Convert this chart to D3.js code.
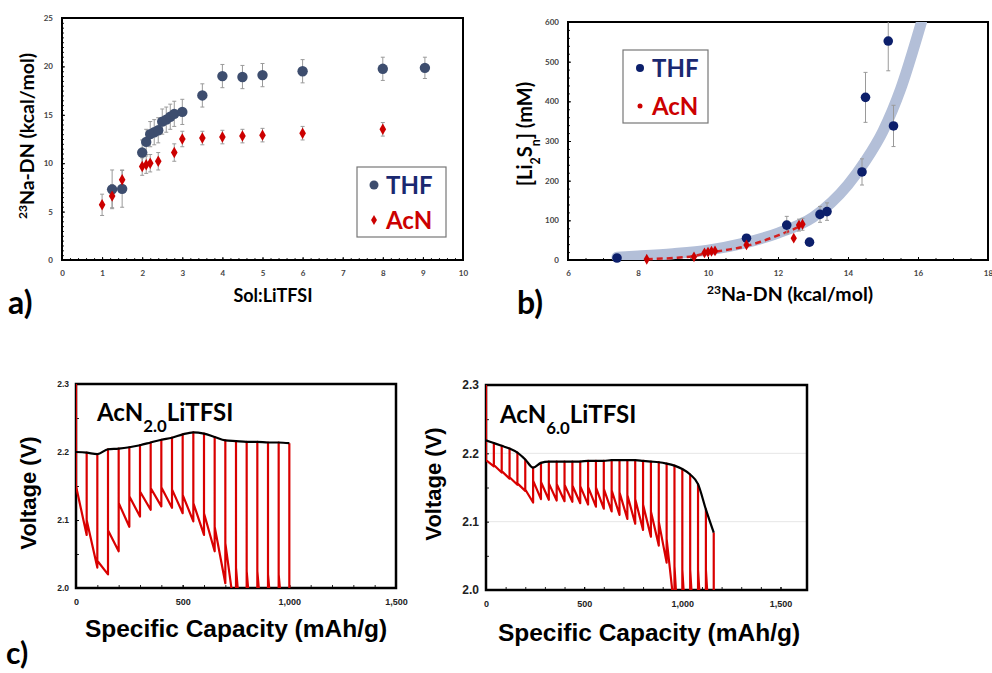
<!DOCTYPE html>
<html>
<head>
<meta charset="utf-8">
<script src="https://cdn.jsdelivr.net/npm/d3@7"></script>
<style>
  body { margin: 0; background: #fff; }
</style>
</head>
<body>
<script>
// ---- panel a: 23Na-DN vs Sol:LiTFSI ----
const thfRatio = [1.25, 1.5, 2.0, 2.1, 2.2, 2.3, 2.4, 2.5, 2.6, 2.7, 2.8, 3.0, 3.5, 4.0, 4.5, 5.0, 6.0, 8.0, 9.05];
const thfDN    = [7.3, 7.35, 11.1, 12.2, 13.0, 13.2, 13.4, 14.3, 14.5, 14.8, 15.1, 15.3, 17.0, 19.0, 18.9, 19.1, 19.5, 19.75, 19.85];
const thfDNErr = [2.0, 1.9, 1.3, 1.3, 1.3, 1.3, 1.3, 1.3, 1.3, 1.3, 1.3, 1.3, 1.2, 1.2, 1.2, 1.2, 1.2, 1.2, 1.1];
const acnRatio = [1.0, 1.25, 1.5, 2.0, 2.1, 2.2, 2.4, 2.8, 3.0, 3.5, 4.0, 4.5, 5.0, 6.0, 8.0];
const acnDN    = [5.7, 6.6, 8.3, 9.65, 9.85, 10.0, 10.2, 11.1, 12.5, 12.6, 12.7, 12.8, 12.9, 13.1, 13.5];
const acnDNErr = [1.1, 1.2, 1.0, 0.9, 0.9, 0.9, 0.9, 0.9, 0.8, 0.7, 0.7, 0.7, 0.7, 0.7, 0.7];

// ---- panel b: [Li2Sn] vs 23Na-DN ----
const thfDNb   = [7.4, 11.1, 12.25, 12.9, 13.2, 13.4, 14.4, 14.5, 15.15, 15.3];
const thfConc  = [5, 55, 88, 45, 115, 122, 222, 410, 552, 338];
const thfConcErr = [0, 0, 22, 0, 20, 22, 33, 63, 75, 52];
const acnDNb   = [8.25, 9.6, 9.9, 10.0, 10.1, 10.2, 11.1, 12.45, 12.6, 12.7];
const acnConc  = [2, 8, 18, 20, 22, 23, 38, 55, 88, 90];
const acnConcErr = [0, 0, 0, 0, 0, 0, 0, 0, 15, 15];
// trend curves
const thfFitX = [7.4, 8, 9, 10, 11, 12, 13, 14, 14.5, 15, 15.5, 16, 16.1];
const thfFitY = [7, 10, 16, 25, 42, 68, 108, 190, 250, 325, 430, 570, 600];
const acnFitX = [8.25, 9, 9.6, 10, 10.5, 11, 11.5, 12, 12.4, 12.7];
const acnFitY = [2, 5, 10, 18, 25, 33, 46, 62, 76, 88];

// ---- panel c: GITT, AcN2.0LiTFSI ----
const cap1 = [0, 50, 100, 150, 200, 250, 300, 350, 400, 450, 500, 550, 600, 650, 700, 750, 800, 850, 900, 950, 1000];
const ocv1 = [2.200, 2.199, 2.197, 2.204, 2.205, 2.207, 2.210, 2.214, 2.218, 2.221, 2.226, 2.229, 2.227, 2.222, 2.217, 2.216, 2.215, 2.215, 2.214, 2.214, 2.213];
const top1 = [2.150, 2.100, 2.040, 2.085, 2.125, 2.135, 2.142, 2.147, 2.148, 2.145, 2.137, 2.125, 2.110, 2.090, 2.066, 2.030, 2.025, 2.025, 2.020, 2.020];
const bot1 = [2.078, 2.030, 2.020, 2.054, 2.090, 2.105, 2.115, 2.120, 2.118, 2.110, 2.098, 2.078, 2.054, 2.007, 1.950, 1.840, 1.840, 1.840, 1.840, 1.840];

// ---- panel c: GITT, AcN6.0LiTFSI ----
const cap2 = [0, 40, 80, 120, 160, 200, 240, 280, 320, 360, 400, 440, 480, 520, 560, 600, 640, 680, 720, 760, 800, 840, 880, 920, 960, 1000, 1040, 1080, 1120, 1160];
const ocv2 = [2.219, 2.215, 2.211, 2.207, 2.201, 2.191, 2.179, 2.186, 2.188, 2.188, 2.188, 2.188, 2.188, 2.189, 2.189, 2.189, 2.190, 2.190, 2.190, 2.190, 2.189, 2.188, 2.187, 2.185, 2.182, 2.177, 2.169, 2.155, 2.118, 2.084];
const top2 = [2.190, 2.183, 2.174, 2.165, 2.156, 2.147, 2.160, 2.158, 2.156, 2.155, 2.154, 2.153, 2.152, 2.151, 2.150, 2.148, 2.146, 2.143, 2.139, 2.133, 2.125, 2.115, 2.100, 2.075, 2.035, 2.030, 2.030, 2.030, 2.030];
const bot2 = [2.181, 2.172, 2.163, 2.154, 2.145, 2.128, 2.133, 2.132, 2.131, 2.130, 2.129, 2.127, 2.125, 2.122, 2.119, 2.115, 2.110, 2.104, 2.097, 2.088, 2.078, 2.065, 2.040, 1.970, 1.840, 1.840, 1.840, 1.840, 1.840];

const navyA = "#3d4d6e";
const navyB = "#0c1f6b";
const red = "#cc0000";
const legNavy = "#1a2870";

const svg = d3.select("body").append("svg")
    .attr("width", 992)
    .attr("height", 673);

function ticksInside(x, y, opt) {
    const [x0, x1] = x.range();
    const [y0, y1] = y.range();
    // minor ticks
    svg.append("g")
        .attr("transform", "translate(0," + y0 + ")")
        .call(d3.axisBottom(x).tickValues(opt.xMinor).tickSize(-opt.minor).tickFormat(""))
        .call(g => g.select(".domain").remove())
        .selectAll("line").attr("stroke", "#222");
    svg.append("g")
        .attr("transform", "translate(" + x0 + ",0)")
        .call(d3.axisLeft(y).tickValues(opt.yMinor).tickSize(-opt.minor).tickFormat(""))
        .call(g => g.select(".domain").remove())
        .selectAll("line").attr("stroke", "#222");
    // major ticks + labels
    const gx = svg.append("g")
        .attr("transform", "translate(0," + y0 + ")")
        .call(d3.axisBottom(x).tickValues(opt.xTicks).tickSizeInner(-opt.major).tickSizeOuter(0)
            .tickPadding(opt.xPad).tickFormat(opt.xFmt));
    gx.select(".domain").remove();
    gx.selectAll("text").style("font-family", opt.font).style("font-size", opt.xSize + "px")
        .style("font-weight", "bold").attr("fill", opt.labelColor);
    const gy = svg.append("g")
        .attr("transform", "translate(" + x0 + ",0)")
        .call(d3.axisLeft(y).tickValues(opt.yTicks).tickSizeInner(-opt.major).tickSizeOuter(0)
            .tickPadding(opt.yPad).tickFormat(opt.yFmt));
    gy.select(".domain").remove();
    gy.selectAll("text").style("font-family", opt.font).style("font-size", opt.ySize + "px")
        .style("font-weight", "bold").attr("fill", opt.labelColor);
    // frame
    svg.append("rect")
        .attr("x", x0).attr("y", y1)
        .attr("width", x1 - x0).attr("height", y0 - y1)
        .attr("fill", "none").attr("stroke", "#000").attr("stroke-width", opt.frame);
}

function errorBars(x, y, xs, ys, es) {
    const g = svg.append("g").attr("stroke", "#9a9a9a").attr("stroke-width", 1);
    xs.forEach((xv, i) => {
        if (!es[i]) return;
        const cx = x(xv);
        const lo = y(ys[i] - es[i]);
        const hi = Math.max(y(ys[i] + es[i]), y.range()[1]);
        g.append("line").attr("x1", cx).attr("x2", cx).attr("y1", lo).attr("y2", hi);
        g.append("line").attr("x1", cx - 2).attr("x2", cx + 2).attr("y1", lo).attr("y2", lo);
        if (hi > y.range()[1]) g.append("line").attr("x1", cx - 2).attr("x2", cx + 2).attr("y1", hi).attr("y2", hi);
    });
}

function rotText(cx, cy, size, parts, family) {
    const t = svg.append("text")
        .attr("transform", "translate(" + cx + "," + cy + ") rotate(-90)")
        .attr("text-anchor", "middle")
        .style("font-size", size + "px").style("font-weight", "bold")
        .style("font-family", family || "Lato");
    parts.forEach(p => {
        const s = t.append("tspan").text(p.t);
        if (p.sup) s.attr("baseline-shift", "super").style("font-size", size * 0.62 + "px");
        if (p.sub) s.attr("baseline-shift", "sub").style("font-size", size * 0.62 + "px");
    });
    return t;
}

function plainText(x, y, size, parts, anchor, color, family) {
    const t = svg.append("text")
        .attr("x", x).attr("y", y)
        .attr("text-anchor", anchor || "start")
        .attr("fill", color || "#000")
        .style("font-size", size + "px").style("font-weight", "bold")
        .style("font-family", family || "Lato");
    parts.forEach(p => {
        const s = t.append("tspan").text(p.t);
        if (p.sup) s.attr("baseline-shift", "super").style("font-size", size * 0.62 + "px");
        if (p.sub) s.attr("baseline-shift", "sub").style("font-size", size * 0.7 + "px");
    });
    return t;
}

const diamond = d3.symbol().type(d3.symbolDiamond);

// ================= panel a =================
const xA = d3.scaleLinear().domain([0, 10]).range([62, 463]);
const yA = d3.scaleLinear().domain([0, 25]).range([260, 18]);

ticksInside(xA, yA, {
    xTicks: d3.range(0, 11), yTicks: d3.range(0, 26, 5),
    xMinor: d3.range(0, 10.01, 0.2), yMinor: d3.range(0, 25.01, 0.5),
    minor: 2, major: 3, xPad: 10, yPad: 9, xSize: 8, ySize: 8,
    xFmt: d3.format("d"), yFmt: d3.format("d"), font: "Lato", labelColor: "#444", frame: 2
});

errorBars(xA, yA, thfRatio, thfDN, thfDNErr);
errorBars(xA, yA, acnRatio, acnDN, acnDNErr);

svg.append("g").selectAll("circle")
    .data(thfRatio)
    .join("circle")
    .attr("cx", d => xA(d))
    .attr("cy", (d, i) => yA(thfDN[i]))
    .attr("r", 5.2)
    .attr("fill", navyA);

svg.append("g").selectAll("path")
    .data(acnRatio)
    .join("path")
    .attr("transform", (d, i) => "translate(" + xA(d) + "," + yA(acnDN[i]) + ")")
    .attr("d", diamond.size(38))
    .attr("fill", red);

// legend a
svg.append("rect").attr("x", 357).attr("y", 167).attr("width", 89).attr("height", 70)
    .attr("fill", "#fff").attr("stroke", "#777").attr("stroke-width", 1.2);
svg.append("circle").attr("cx", 374).attr("cy", 185).attr("r", 4.5).attr("fill", navyA);
svg.append("path").attr("transform", "translate(374,220)").attr("d", diamond.size(30)).attr("fill", red);
plainText(386, 194, 24, [{ t: "THF" }], "start", legNavy);
plainText(386, 229, 24, [{ t: "AcN" }], "start", red);

rotText(34, 136, 19.5, [{ t: "23", sup: true }, { t: "Na-DN (kcal/mol)" }]);
plainText(273, 302, 18, [{ t: "Sol:LiTFSI" }], "middle");
plainText(8, 314, 32, [{ t: "a)" }]);

// ================= panel b =================
const xB = d3.scaleLinear().domain([6, 18]).range([568, 988]);
const yB = d3.scaleLinear().domain([0, 600]).range([260, 22]);

ticksInside(xB, yB, {
    xTicks: d3.range(6, 19, 2), yTicks: d3.range(0, 601, 100),
    xMinor: d3.range(6, 18.01, 0.5), yMinor: d3.range(0, 600.1, 20),
    minor: 2, major: 3, xPad: 10, yPad: 9, xSize: 8, ySize: 8,
    xFmt: d3.format("d"), yFmt: d3.format("d"), font: "Lato", labelColor: "#444", frame: 2
});

svg.append("defs").append("clipPath").attr("id", "clipB")
    .append("rect").attr("x", 568).attr("y", 22).attr("width", 420).attr("height", 238);

svg.append("path")
    .datum(thfFitX.map((d, i) => [d, thfFitY[i]]))
    .attr("clip-path", "url(#clipB)")
    .attr("d", d3.line().x(d => xB(d[0])).y(d => yB(d[1])).curve(d3.curveMonotoneX))
    .attr("fill", "none")
    .attr("stroke", "#b3bfd8")
    .attr("stroke-width", 11)
    .attr("stroke-linecap", "round");

svg.append("path")
    .datum(acnFitX.map((d, i) => [d, acnFitY[i]]))
    .attr("d", d3.line().x(d => xB(d[0])).y(d => yB(d[1])).curve(d3.curveMonotoneX))
    .attr("fill", "none")
    .attr("stroke", "#d42020")
    .attr("stroke-width", 2.5)
    .attr("stroke-dasharray", "6,4");

errorBars(xB, yB, thfDNb, thfConc, thfConcErr);
errorBars(xB, yB, acnDNb, acnConc, acnConcErr);

svg.append("g").selectAll("circle")
    .data(thfDNb)
    .join("circle")
    .attr("cx", d => xB(d))
    .attr("cy", (d, i) => yB(thfConc[i]))
    .attr("r", 4.8)
    .attr("fill", navyB);

svg.append("g").selectAll("path")
    .data(acnDNb)
    .join("path")
    .attr("transform", (d, i) => "translate(" + xB(d) + "," + yB(acnConc[i]) + ")")
    .attr("d", diamond.size(34))
    .attr("fill", red);

// legend b
svg.append("rect").attr("x", 623).attr("y", 50).attr("width", 85).attr("height", 73)
    .attr("fill", "#fff").attr("stroke", "#777").attr("stroke-width", 1.2);
svg.append("circle").attr("cx", 640).attr("cy", 68).attr("r", 4).attr("fill", navyB);
svg.append("circle").attr("cx", 640).attr("cy", 106).attr("r", 2.5).attr("fill", red);
plainText(652, 77, 24, [{ t: "THF" }], "start", legNavy);
plainText(652, 115, 24, [{ t: "AcN" }], "start", red);

rotText(532, 134, 20, [{ t: "[Li" }, { t: "2", sub: true }, { t: "S" }, { t: "n", sub: true }, { t: "] (mM)" }]);
plainText(790, 301, 19.5, [{ t: "23", sup: true }, { t: "Na-DN (kcal/mol)" }], "middle");
plainText(517, 314, 32, [{ t: "b)" }]);

// ================= panel c =================
function gittPanel(id, x, y, cap, ocv, top, bot, labelSizeY, grid) {
    const [x0, x1] = x.range();
    const [y0, y1] = y.range();

    if (grid) {
        svg.append("g").selectAll("line")
            .data([2.1, 2.2])
            .join("line")
            .attr("x1", x0).attr("x2", x1)
            .attr("y1", d => y(d)).attr("y2", d => y(d))
            .attr("stroke", "#e6e6e6").attr("stroke-width", 1);
    }

    ticksInside(x, y, {
        xTicks: [0, 500, 1000, 1500], yTicks: [2.0, 2.1, 2.2, 2.3],
        xMinor: d3.range(0, 1501, 100), yMinor: [2.05, 2.15, 2.25],
        minor: 3, major: 3, xPad: 11, yPad: 7, xSize: 9, ySize: labelSizeY,
        xFmt: d3.format(","), yFmt: d3.format(".1f"), font: "Liberation Sans", labelColor: "#222", frame: 2.5
    });

    svg.append("defs").append("clipPath").attr("id", id)
        .append("rect").attr("x", x0).attr("y", y1).attr("width", x1 - x0).attr("height", y0 - y1);

    // red GITT trace: drop at each rest, decline during pulse, relax back to OCV
    const pts = [[cap[0], 2.3], [cap[0], top[0]]];
    for (let i = 0; i < bot.length; i++) {
        pts.push([cap[i + 1], bot[i]]);
        pts.push([cap[i + 1], ocv[i + 1]]);
        if (i + 1 < top.length) pts.push([cap[i + 1], top[i + 1]]);
    }
    svg.append("path")
        .datum(pts)
        .attr("clip-path", "url(#" + id + ")")
        .attr("d", d3.line().x(d => x(d[0])).y(d => y(d[1])))
        .attr("fill", "none")
        .attr("stroke", "#d90000")
        .attr("stroke-width", 2.2)
        .attr("stroke-linejoin", "round");

    svg.append("path")
        .datum(cap.map((d, i) => [d, ocv[i]]))
        .attr("d", d3.line().x(d => x(d[0])).y(d => y(d[1])).curve(d3.curveMonotoneX))
        .attr("fill", "none")
        .attr("stroke", "#000")
        .attr("stroke-width", 2.2);
}

const xC1 = d3.scaleLinear().domain([0, 1500]).range([76, 396]);
const yC1 = d3.scaleLinear().domain([2.0, 2.3]).range([588, 384]);
gittPanel("clipC1", xC1, yC1, cap1, ocv1, top1, bot1, 8.5, false);

const xC2 = d3.scaleLinear().domain([0, 1635]).range([486, 807]);
const yC2 = d3.scaleLinear().domain([2.0, 2.3]).range([590, 385]);
gittPanel("clipC2", xC2, yC2, cap2, ocv2, top2, bot2, 12, true);

plainText(97, 421, 24, [{ t: "AcN" }, { t: "2.0", sub: true }, { t: "LiTFSI" }]);
plainText(500, 423, 24, [{ t: "AcN" }, { t: "6.0", sub: true }, { t: "LiTFSI" }]);

rotText(36, 493, 22, [{ t: "Voltage (V)" }], "Liberation Sans");
rotText(441, 484, 22, [{ t: "Voltage (V)" }], "Liberation Sans");
plainText(236, 637, 24.5, [{ t: "Specific Capacity (mAh/g)" }], "middle", "#000", "Liberation Sans");
plainText(649, 641, 24.5, [{ t: "Specific Capacity (mAh/g)" }], "middle", "#000", "Liberation Sans");
plainText(6, 664, 30, [{ t: "c)" }]);
</script>
</body>
</html>
